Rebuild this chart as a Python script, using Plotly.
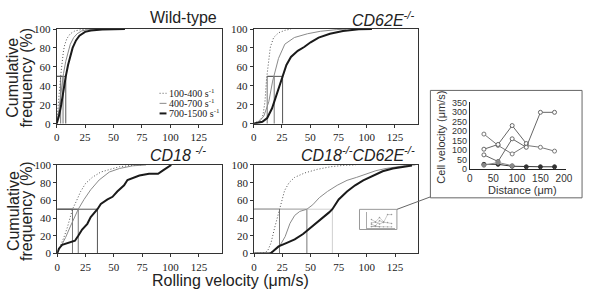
import plotly.graph_objects as go

# ---------------- data ----------------
# Wild-type
wt_lo_v = [0, 1, 2, 3, 4, 5, 6, 7, 9, 12, 16, 22, 30]
wt_lo_p = [0, 12, 28, 43, 56, 68, 77, 83, 90, 95, 98, 99.5, 100]
wt_mid_v = [0, 1, 2, 3, 4, 5, 6, 8, 10, 12, 15, 18, 22, 28, 40]
wt_mid_p = [0, 6, 15, 25, 35, 45, 53, 66, 76, 84, 91, 95, 98, 99.5, 100]
wt_hi_v = [0, 2, 4, 6, 8, 10, 12, 14, 17, 20, 25, 30, 40, 60]
wt_hi_p = [0, 8, 20, 36, 50, 62, 72, 80, 88, 93, 97, 98.5, 99.5, 100]
wt_medians = [3.5, 5.6, 8.0]
wt_hstart = 0

# CD62E-/-
e_lo_v = [0, 3.4, 6.3, 8.3, 10, 11.4, 12.8, 14.8, 17.7, 22, 27.6, 33]
e_lo_p = [0, 2, 4.4, 9.5, 23, 47, 64, 81, 91, 96, 98.6, 100]
e_mid_v = [0, 4.8, 9, 13.4, 16.8, 18.5, 22, 27.6, 36, 47.6, 59, 73, 82]
e_mid_p = [0, 2, 8, 23, 45, 54, 69, 84, 91, 95, 97.6, 99.3, 100]
e_hi_v = [0, 7.7, 12, 16.2, 19, 22, 25.6, 29, 33, 39, 44.7, 50.4, 57.5, 67.5, 79, 93, 104.6]
e_hi_p = [0, 2, 6, 16, 26, 37, 50, 62, 70.5, 77, 81, 86, 91, 95, 98, 99.7, 100]
e_medians = [12, 18.2, 25.6]
e_hstart = 12

# CD18-/-
b_lo_v = [0, 3, 5.9, 8.9, 11.8, 13.5, 16.9, 20.7, 25, 31, 38.5, 46, 55, 66.6, 75]
b_lo_p = [0, 9, 18, 29, 41, 50, 59, 70, 79, 86, 92, 95, 98, 99.6, 100]
b_mid_v = [0, 3, 7.4, 11.8, 15.7, 18.6, 23.7, 29.6, 37, 46, 55, 66.6, 78.4]
b_mid_p = [0, 7, 18, 31, 41, 50, 61, 72, 83, 92, 96, 99, 100]
b_hi_v = [0, 1.5, 4.4, 10.4, 15.7, 18.6, 22, 26.6, 29.6, 35.5, 38.5, 44.4, 48.8, 53, 59,
          62, 66.6, 72.5, 81, 89, 93, 99, 100.6]
b_hi_p = [0, 5.4, 9.7, 12, 14.4, 20, 27, 33.5, 41, 50, 56, 61, 64, 70, 77,
          83, 85, 88, 90, 90, 93.5, 99, 100]
b_medians = [13.5, 18.6, 35.5]
b_hstart = 0

# CD18-/-CD62E-/-
d_lo_v = [0, 9, 12, 15, 18, 20.5, 22.5, 24.5, 27, 31, 36, 45, 56, 68, 80, 90]
d_lo_p = [0, 0.5, 3, 12, 28, 40, 50, 61, 71, 80, 86, 91, 95, 98, 99.6, 100]
d_mid_v = [0, 13, 17.3, 22.5, 27.5, 31.8, 36, 40.5, 46.8, 52, 57.8, 65, 73.7, 82.4, 91,
           99.7, 108, 117, 125.7, 134.4, 143]
d_mid_p = [0, 0, 3, 8, 19, 34, 43, 47.5, 50, 55, 63, 70, 77, 82.6, 86,
           90, 93.5, 96, 98, 99.3, 100]
d_hi_v = [0, 14.5, 17.3, 21.7, 29, 36, 43.4, 47.7, 53.5, 57.8, 62, 66.5, 69.4, 75, 82.4,
          89.6, 96.8, 105.5, 114, 123, 131.5, 140]
d_hi_p = [0, 0, 3, 8, 12, 16, 22, 26.4, 33, 37, 41, 46.4, 50, 61, 70,
          77, 82.6, 88, 92.8, 96, 98, 99.3]
d_medians = [22.5, 46.8, 69.4]
d_hstart = 0

x_ticks = [0, 25, 50, 75, 100, 125]
y_ticks = [0, 20, 40, 60, 80, 100]
legend_labels = ["100-400 s<sup>-1</sup>", "400-700 s<sup>-1</sup>", "700-1500 s<sup>-1</sup>"]
panel_titles = ["Wild-type", "<i>CD62E<sup>-/-</sup></i>", "<i>CD18 <sup>-/-</sup></i>",
                "<i>CD18<sup>-/-</sup>CD62E<sup>-/-</sup></i>"]

# inset: cell velocity vs distance
inset_x = [30, 60, 90, 120, 150, 180]
cell_a = [185, 125, 80, 125, 115, 95]
cell_b = [105, 130, 230, 135, None, None]
cell_c = [75, 40, 160, 115, 300, 300]
cell_d = [25, 25, 15, 12, 12, 12]
cell_e = [20, 35, 18, None, None, None]
inset_xticks = [0, 50, 100, 150, 200]
inset_yticks = [0, 50, 100, 150, 200, 250, 300, 350]

# ---------------- layout helpers ----------------
W, H = 592, 294


def fx(x):
    return x / W


def fy(y):
    return 1 - y / H


SERIF = "Liberation Serif"
SANS = "Liberation Sans"

panels = [
    dict(d=[(wt_lo_v, wt_lo_p), (wt_mid_v, wt_mid_p), (wt_hi_v, wt_hi_p)], med=wt_medians, hs=wt_hstart,
         box=(54.5, 222, 24, 122.7)),
    dict(d=[(e_lo_v, e_lo_p), (e_mid_v, e_mid_p), (e_hi_v, e_hi_p)], med=e_medians, hs=e_hstart,
         box=(254.5, 421, 24, 122.7)),
    dict(d=[(b_lo_v, b_lo_p), (b_mid_v, b_mid_p), (b_hi_v, b_hi_p)], med=b_medians, hs=b_hstart,
         box=(55, 222, 165.7, 258)),
    dict(d=[(d_lo_v, d_lo_p), (d_mid_v, d_mid_p), (d_hi_v, d_hi_p)], med=d_medians, hs=d_hstart,
         box=(255, 421, 165.7, 258)),
]

styles = [dict(color="#555", width=1, dash="1px,2px"),
          dict(color="#8a8a8a", width=1),
          dict(color="#1a1a1a", width=2)]
med_colors = ["#777", "#777", "#555"]

fig = go.Figure()
layout = dict(width=W, height=H, margin=dict(l=0, r=0, t=0, b=0),
              paper_bgcolor="white", plot_bgcolor="white", showlegend=False)

for i, p in enumerate(panels):
    n = "" if i == 0 else str(i + 1)
    xa, ya = "x" + n, "y" + n
    x0, x1, y0, y1 = p["box"]
    # median guide lines
    for j, m in enumerate(p["med"]):
        col = med_colors[j]
        if i == 3 and j == 2:
            col = "#cfcfcf"
        fig.add_trace(go.Scatter(x=[m, m], y=[0, 50], mode="lines", xaxis=xa, yaxis=ya,
                                 line=dict(color=col, width=1), hoverinfo="skip"))
        fig.add_trace(go.Scatter(x=[p["hs"], m], y=[50, 50], mode="lines", xaxis=xa, yaxis=ya,
                                 line=dict(color=col, width=1), hoverinfo="skip"))
    for (v, q), st in zip(p["d"], styles):
        fig.add_trace(go.Scatter(x=v, y=q, mode="lines", xaxis=xa, yaxis=ya, line=st))
    layout["xaxis" + n] = dict(domain=[fx(x0), fx(x1)], range=[0, 145], anchor=ya,
                               tickvals=x_ticks, ticks="outside", ticklen=3, tickcolor="#333",
                               showline=True, mirror=True, linecolor="#333", linewidth=1,
                               showgrid=False, zeroline=False,
                               tickfont=dict(family=SERIF, size=11, color="#222"))
    layout["yaxis" + n] = dict(domain=[fy(y1), fy(y0)], range=[0, 100], anchor=xa,
                               tickvals=y_ticks, ticks="outside", ticklen=3, tickcolor="#333",
                               showline=True, mirror=True, linecolor="#333", linewidth=1,
                               showgrid=False, zeroline=False,
                               tickfont=dict(family=SERIF, size=11, color="#222"))

# inset plot (x5/y5) and tiny preview (x6/y6)
inset_series = [(cell_a, "#777", "white"), (cell_b, "#666", "white"), (cell_c, "#666", "white"),
                (cell_d, "#333", "#333"), (cell_e, "#888", "#888")]
for ys, lc, mc in inset_series:
    fig.add_trace(go.Scatter(x=inset_x, y=ys, mode="lines+markers", xaxis="x5", yaxis="y5",
                             line=dict(color=lc, width=1), connectgaps=False,
                             marker=dict(size=4, color=mc, line=dict(color=lc, width=1))))
    fig.add_trace(go.Scatter(x=inset_x, y=ys, mode="lines+markers", xaxis="x6", yaxis="y6",
                             line=dict(color="#999", width=0.5),
                             marker=dict(size=1.5, color="#999")))

layout["xaxis5"] = dict(domain=[fx(474), fx(572)], range=[0, 205], anchor="y5",
                        tickvals=inset_xticks, ticks="", showline=True, linecolor="#222",
                        linewidth=1, showgrid=False, zeroline=False,
                        tickfont=dict(family=SANS, size=10, color="#333"))
layout["yaxis5"] = dict(domain=[fy(170), fy(100)], range=[0, 355], anchor="x5",
                        tickvals=inset_yticks, ticks="", showline=True, linecolor="#222",
                        linewidth=1, showgrid=False, zeroline=False,
                        tickfont=dict(family=SANS, size=9, color="#333"))
layout["xaxis6"] = dict(domain=[fx(370), fx(398)], range=[0, 205], anchor="y6",
                        showticklabels=False, ticks="", showline=True, linecolor="#aaa",
                        linewidth=0.5, showgrid=False, zeroline=False)
layout["yaxis6"] = dict(domain=[fy(231), fy(215)], range=[0, 355], anchor="x6",
                        showticklabels=False, ticks="", showline=True, linecolor="#aaa",
                        linewidth=0.5, showgrid=False, zeroline=False)

shapes = [
    dict(type="rect", xref="paper", yref="paper", x0=fx(434), x1=fx(588), y0=fy(200), y1=fy(88),
         line=dict(color="#666", width=1)),
    dict(type="rect", xref="paper", yref="paper", x0=fx(362), x1=fx(400), y0=fy(233), y1=fy(212),
         line=dict(color="#999", width=1)),
    dict(type="line", xref="paper", yref="paper", x0=fx(400), y0=fy(212), x1=fx(434), y1=fy(199),
         line=dict(color="#666", width=1)),
]
# legend line samples
leg_y = [91, 101.5, 112]
for yy, st in zip(leg_y, styles):
    shapes.append(dict(type="line", xref="paper", yref="paper", x0=fx(159), x1=fx(166),
                       y0=fy(yy), y1=fy(yy),
                       line=dict(color=st["color"], width=st["width"], dash=st.get("dash", "solid"))))

annotations = []
for yy, lab in zip(leg_y, legend_labels):
    annotations.append(dict(xref="paper", yref="paper", x=fx(167), y=fy(yy), text=lab,
                            showarrow=False, xanchor="left", yanchor="middle",
                            font=dict(family=SERIF, size=10, color="#222")))

title_pos = [(219, 12), (419, 14), (208, 154), (420, 154)]
for (tx, ty), t in zip(title_pos, panel_titles):
    annotations.append(dict(xref="paper", yref="paper", x=fx(tx), y=fy(ty), text=t,
                            showarrow=False, xanchor="right", yanchor="middle",
                            font=dict(family=SANS, size=16, color="#222")))

for cy in (75, 214):
    annotations.append(dict(xref="paper", yref="paper", x=fx(10), y=fy(cy),
                            text="Cumulative", textangle=-90,
                            showarrow=False, xanchor="center", yanchor="middle",
                            font=dict(family=SANS, size=16, color="#222")))
    annotations.append(dict(xref="paper", yref="paper", x=fx(24), y=fy(cy),
                            text="frequency (%)", textangle=-90,
                            showarrow=False, xanchor="center", yanchor="middle",
                            font=dict(family=SANS, size=16, color="#222")))

annotations.append(dict(xref="paper", yref="paper", x=fx(231), y=fy(286),
                        text="Rolling velocity (\u03bcm/s)", showarrow=False,
                        xanchor="center", yanchor="middle",
                        font=dict(family=SANS, size=16, color="#222")))
annotations.append(dict(xref="paper", yref="paper", x=fx(445), y=fy(137),
                        text="Cell velocity (\u03bcm/s)", textangle=-90, showarrow=False,
                        xanchor="center", yanchor="middle",
                        font=dict(family=SANS, size=11, color="#333")))
annotations.append(dict(xref="paper", yref="paper", x=fx(528), y=fy(192),
                        text="Distance (\u03bcm)", showarrow=False,
                        xanchor="center", yanchor="middle",
                        font=dict(family=SANS, size=11, color="#333")))

layout["shapes"] = shapes
layout["annotations"] = annotations
fig.update_layout(**layout)
fig.write_html("out.html")
